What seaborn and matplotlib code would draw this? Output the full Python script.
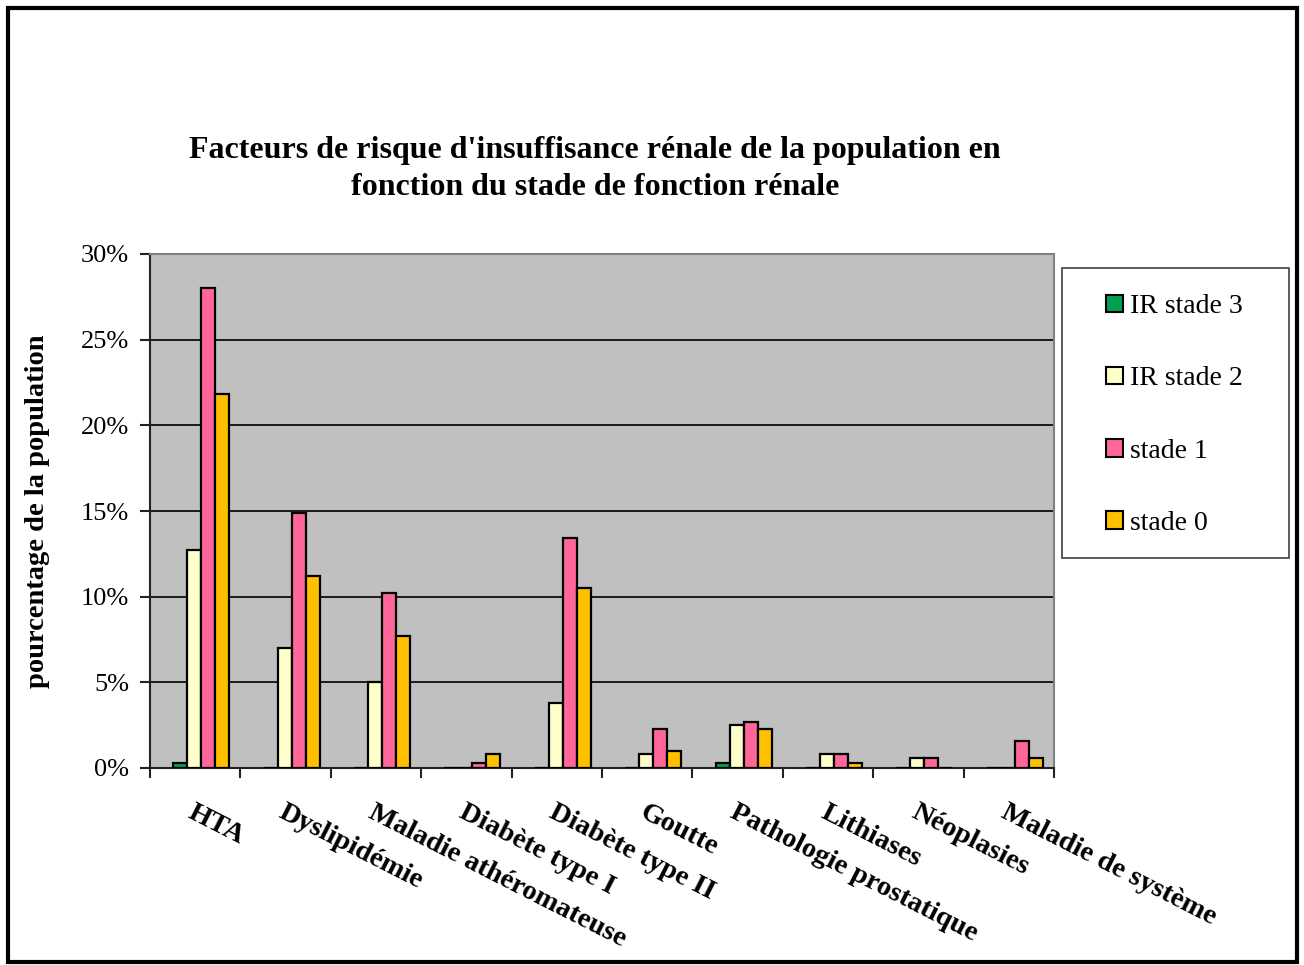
import matplotlib
matplotlib.use("Agg")
import matplotlib.pyplot as plt
from matplotlib.patches import Rectangle, Patch
from matplotlib.ticker import PercentFormatter, FixedLocator
import seaborn as sns
import pandas as pd

categories = ["HTA", "Dyslipidémie", "Maladie athéromateuse", "Diabète type I",
              "Diabète type II", "Goutte", "Pathologie prostatique", "Lithiases",
              "Néoplasies", "Maladie de système"]
series = ["IR stade 3", "IR stade 2", "stade 1", "stade 0"]

ir_stade3 = [0.3, 0.0, 0.0, 0.0, 0.0, 0.0, 0.3, 0.0, 0.0, 0.0]
ir_stade2 = [12.7, 7.0, 5.0, 0.0, 3.8, 0.8, 2.5, 0.8, 0.6, 0.0]
stade1 = [28.0, 14.9, 10.2, 0.3, 13.4, 2.3, 2.7, 0.8, 0.6, 1.6]
stade0 = [21.8, 11.2, 7.7, 0.8, 10.5, 1.0, 2.3, 0.3, 0.0, 0.6]

colors = ["#00A050", "#FFFFCC", "#FF6699", "#FFC000"]

rows = []
for name, vals in zip(series, [ir_stade3, ir_stade2, stade1, stade0]):
    for cat, v in zip(categories, vals):
        rows.append({"facteur": cat, "stade": name, "valeur": v})
df = pd.DataFrame(rows)

sns.set_theme(style="white")
plt.rcParams["font.family"] = ["Liberation Serif", "DejaVu Serif"]
plt.rcParams.update({"text.color": "black", "axes.labelcolor": "black",
                     "xtick.color": "black", "ytick.color": "black"})

W, H = 1304, 965
fig = plt.figure(figsize=(W / 100, H / 100), dpi=100)
ax = fig.add_axes([150 / W, 1 - 768 / H, 904 / W, 514 / H])

sns.barplot(data=df, x="facteur", y="valeur", hue="stade", hue_order=series,
            order=categories, palette=colors, saturation=1, width=0.62,
            edgecolor="black", linewidth=1.6, ax=ax, legend=False, zorder=3)

# bar groups sit slightly right of the centre of each category slot
shift = 0.066
n = len(categories)
ax.set_facecolor("#C0C0C0")
ax.set_ylim(0, 30)
ax.set_xlim(-0.5 - shift, n - 0.5 - shift)
ax.set_yticks(range(0, 31, 5))
ax.yaxis.set_major_formatter(PercentFormatter(decimals=0))
ax.grid(axis="y", color="#1a1a1a", linewidth=1.4, zorder=1)
ax.set_axisbelow(True)

for s in ["top", "right"]:
    ax.spines[s].set_color("#808080")
    ax.spines[s].set_linewidth(1.5)
for s in ["left", "bottom"]:
    ax.spines[s].set_color("#222222")
    ax.spines[s].set_linewidth(1.5)

ax.tick_params(axis="y", direction="out", length=7, width=1.5, color="#222222",
               labelcolor="black", labelsize=19, pad=8, left=True)
ax.set_xticks([i - shift for i in range(n)])
ax.set_xticklabels(categories, rotation=-27, ha="left", va="top",
                   rotation_mode="anchor", fontsize=20.5, fontweight="bold",
                   color="black")
ax.tick_params(axis="x", length=0, pad=23)
ax.xaxis.set_minor_locator(FixedLocator([i - 0.5 - shift for i in range(n + 1)]))
ax.tick_params(axis="x", which="minor", direction="out", length=7, width=1.5,
               color="#222222", bottom=True)

ax.set_xlabel("")
ax.set_ylabel("pourcentage de la population", fontsize=20.5, fontweight="bold",
              labelpad=22, color="black")

fig.text(595 / W, 1 - 169 / H,
         "Facteurs de risque d'insuffisance rénale de la population en\n"
         "fonction du stade de fonction rénale",
         ha="center", va="center", fontsize=23, fontweight="bold",
         linespacing=1.33, color="black")

# legend box and entries
fig.patches.append(Rectangle((1062 / W, 1 - 558 / H), 227 / W, 290 / H,
                             transform=fig.transFigure, facecolor="white",
                             edgecolor="#404040", linewidth=1.2))
handles = [Patch(facecolor=c, edgecolor="black", linewidth=1.5) for c in colors]
leg = fig.legend(handles, series, loc="upper left",
                 bbox_to_anchor=(1095 / W, 1 - 283 / H),
                 frameon=False, fontsize=20, handlelength=0.6, handleheight=0.6,
                 handletextpad=0.25, labelspacing=1.7, borderpad=0.4,
                 borderaxespad=0, labelcolor="black")
leg.set_zorder(5)

fig.patches.append(Rectangle((8 / W, 3 / H), 1289 / W, 954 / H,
                             transform=fig.transFigure, fill=False,
                             edgecolor="black", linewidth=3))

fig.savefig("out.png", dpi=100, facecolor="white")
